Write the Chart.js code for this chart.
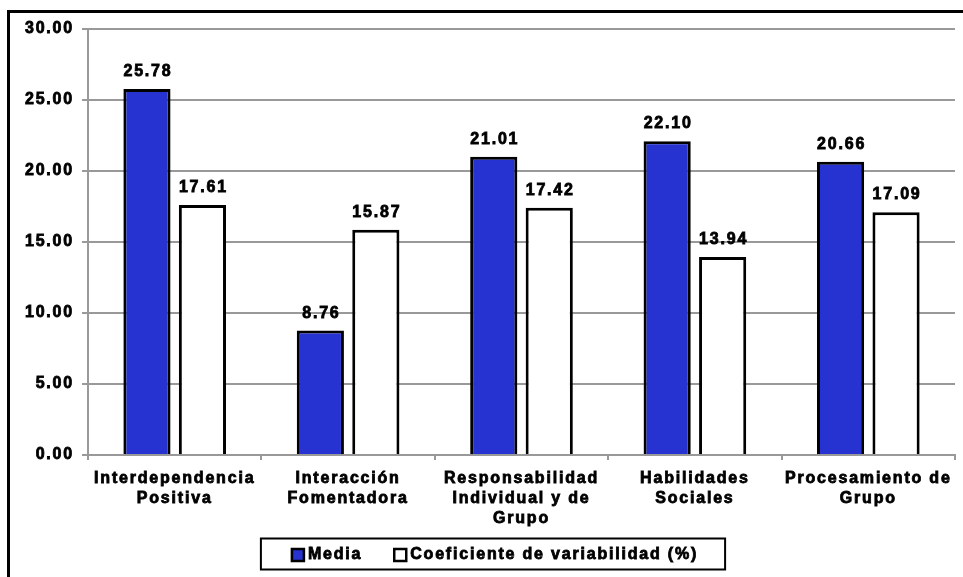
<!DOCTYPE html>
<html>
<head>
<meta charset="utf-8">
<script src="https://cdn.jsdelivr.net/npm/chart.js@4.4.0/dist/chart.umd.min.js"></script>
<style>
  html, body { margin: 0; padding: 0; background: #fff; overflow: hidden; }
  #wrap { position: relative; width: 963px; height: 577px; }
  #frame { position: absolute; left: 7px; top: 10px; width: 1000px; height: 600px;
           border-left: 3px solid #000; border-top: 3px solid #000; }
  canvas { position: absolute; left: 0; top: 0; }
</style>
</head>
<body>
<div id="wrap">
  <div id="frame"></div>
  <canvas id="chart" width="963" height="577"></canvas>
</div>
<script>
  // Chart data
  const categories = [
    ['Interdependencia', 'Positiva'],
    ['Interacción', 'Fomentadora'],
    ['Responsabilidad', 'Individual y de', 'Grupo'],
    ['Habilidades', 'Sociales'],
    ['Procesamiento de', 'Grupo']
  ];
  const seriesNames = ['Media', 'Coeficiente de variabilidad (%)'];
  const mediaValues = [25.78, 8.76, 21.01, 22.10, 20.66];
  const cvValues = [17.61, 15.87, 17.42, 13.94, 17.09];
  const yMin = 0, yMax = 30, yStep = 5;

  const FONT = 'Arial, "Liberation Sans", sans-serif';
  const SPACING = '1.8px';
  const INK = '#000';
  const STROKE = 0.8;
  Chart.defaults.font.family = FONT;
  Chart.defaults.font.size = 16;
  Chart.defaults.font.weight = 'bold';
  Chart.defaults.color = INK;

  // letter spacing to mimic the wide bold text of the original
  const spacingPlugin = {
    id: 'spacing',
    beforeUpdate(chart) { chart.ctx.letterSpacing = SPACING; },
    beforeDraw(chart) { chart.ctx.letterSpacing = SPACING; }
  };

  function heavyText(ctx, text, x, y) {
    ctx.strokeText(text, x, y);
    ctx.fillText(text, x, y);
  }

  // value labels above each bar
  const valueLabels = {
    id: 'valueLabels',
    afterDatasetsDraw(chart) {
      const ctx = chart.ctx;
      ctx.save();
      ctx.letterSpacing = SPACING;
      ctx.font = 'bold 16px ' + FONT;
      ctx.fillStyle = INK;
      ctx.strokeStyle = INK;
      ctx.lineWidth = STROKE;
      ctx.textAlign = 'center';
      ctx.textBaseline = 'alphabetic';
      chart.data.datasets.forEach((ds, i) => {
        chart.getDatasetMeta(i).data.forEach((bar, j) => {
          heavyText(ctx, ds.data[j].toFixed(2), bar.x + 1, bar.y - 13);
        });
      });
      ctx.restore();
    }
  };

  // boxed legend at the bottom
  const boxLegend = {
    id: 'boxLegend',
    afterDraw(chart) {
      const ctx = chart.ctx;
      ctx.save();
      ctx.letterSpacing = SPACING;
      ctx.font = 'bold 16px ' + FONT;
      const sq = 12, gap = 4, itemGap = 32, padL = 31, padR = 27;
      const items = chart.data.datasets.map(ds => ({
        label: ds.label, fill: ds.backgroundColor, w: ctx.measureText(ds.label).width
      }));
      let total = 0;
      items.forEach((it, i) => { total += sq + gap + it.w + (i < items.length - 1 ? itemGap : 0); });
      const cx = 493, cy = 554;
      const boxW = total + padL + padR, boxH = 31;
      const bx = cx - boxW / 2, by = cy - boxH / 2;
      ctx.lineWidth = 2;
      ctx.strokeStyle = '#000';
      ctx.fillStyle = '#fff';
      ctx.fillRect(bx, by, boxW, boxH);
      ctx.strokeRect(bx, by, boxW, boxH);
      let x = bx + padL;
      ctx.textBaseline = 'middle';
      ctx.textAlign = 'left';
      items.forEach(it => {
        ctx.lineWidth = 2.5;
        ctx.fillStyle = it.fill;
        ctx.fillRect(x, cy - sq / 2 + 1, sq, sq);
        ctx.strokeRect(x, cy - sq / 2 + 1, sq, sq);
        ctx.fillStyle = INK;
        ctx.lineWidth = STROKE;
        heavyText(ctx, it.label, x + sq + gap, cy + 1);
        x += sq + gap + it.w + itemGap;
      });
      ctx.restore();
    }
  };

  const ctx = document.getElementById('chart').getContext('2d');
  new Chart(ctx, {
    type: 'bar',
    data: {
      labels: categories,
      datasets: [{
        label: seriesNames[0],
        data: mediaValues,
        backgroundColor: '#2633D1',
        borderColor: '#000',
        borderWidth: 3,
        categoryPercentage: 0.64,
        barPercentage: 0.85
      }, {
        label: seriesNames[1],
        data: cvValues,
        backgroundColor: '#ffffff',
        borderColor: '#000',
        borderWidth: 3,
        categoryPercentage: 0.64,
        barPercentage: 0.85
      }]
    },
    options: {
      responsive: false,
      animation: false,
      devicePixelRatio: 1,
      layout: { padding: { top: 29, left: 10, right: 8, bottom: 47 } },
      plugins: {
        legend: { display: false },
        tooltip: { enabled: false }
      },
      scales: {
        x: {
          grid: { display: true, drawOnChartArea: false, offset: true, tickLength: 5, color: '#999', lineWidth: 2 },
          border: { color: '#999', width: 2 },
          ticks: {
            color: INK, textStrokeColor: INK, textStrokeWidth: STROKE,
            font: { size: 16, weight: 'bold', lineHeight: 1.25 },
            padding: 9, maxRotation: 0, autoSkip: false
          },
          afterFit(scale) { scale.height = 75; scale.paddingLeft = 0; scale.paddingRight = 0; }
        },
        y: {
          min: yMin,
          max: yMax,
          ticks: {
            stepSize: yStep, padding: 8, color: INK, textStrokeColor: INK, textStrokeWidth: STROKE,
            callback: v => v.toFixed(2)
          },
          grid: { color: '#999', lineWidth: 2, tickLength: 6 },
          border: { color: '#999', width: 2 },
          afterFit(scale) { scale.width = 78; }
        }
      }
    },
    plugins: [spacingPlugin, valueLabels, boxLegend]
  });
</script>
</body>
</html>
